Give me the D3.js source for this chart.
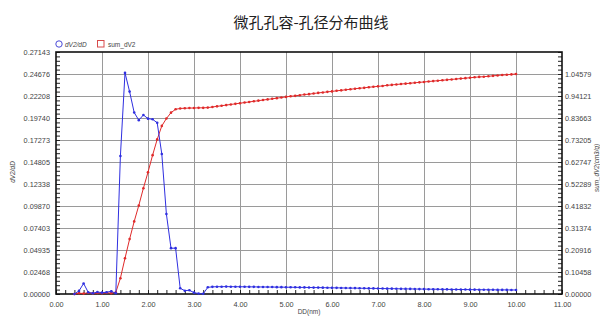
<!DOCTYPE html>
<html>
<head>
<meta charset="utf-8">
<script src="https://cdn.jsdelivr.net/npm/d3@7"></script>
<style>
  body { margin: 0; background: #fff; }
  svg { display: block; }
  text { font-family: "Liberation Sans", Arial, sans-serif; }
</style>
</head>
<body>
<svg id="chart" width="600" height="320"></svg>
<script>
// ---------------- data ----------------
const title = "微孔孔容-孔径分布曲线";
const xLabel = "DD(nm)";
const yLeftLabel = "dV2/dD";
const yRightLabel = "sum_dV2(cm3/g)";
const seriesNames = ["dV2/dD", "sum_dV2"];

const poreSize = [
  0.4, 0.5, 0.6, 0.7, 0.8, 0.9, 1.0, 1.1, 1.2, 1.3,
  1.4, 1.5, 1.6, 1.7, 1.8, 1.9, 2.0, 2.1, 2.2, 2.3,
  2.4, 2.5, 2.6, 2.7, 2.8, 2.9, 3.0, 3.1, 3.2, 3.3,
  3.4, 3.5, 3.6, 3.7, 3.8, 3.9, 4.0, 4.1, 4.2, 4.3,
  4.4, 4.5, 4.6, 4.7, 4.8, 4.9, 5.0, 5.1, 5.2, 5.3,
  5.4, 5.5, 5.6, 5.7, 5.8, 5.9, 6.0, 6.1, 6.2, 6.3,
  6.4, 6.5, 6.6, 6.7, 6.8, 6.9, 7.0, 7.1, 7.2, 7.3,
  7.4, 7.5, 7.6, 7.7, 7.8, 7.9, 8.0, 8.1, 8.2, 8.3,
  8.4, 8.5, 8.6, 8.7, 8.8, 8.9, 9.0, 9.1, 9.2, 9.3,
  9.4, 9.5, 9.6, 9.7, 9.8, 9.9, 10.0
];

const dV2dD = [
  0.0000, 0.0035, 0.0118, 0.0020, 0.0008, 0.0022, 0.0015, 0.0020, 0.0030, 0.0008,
  0.1547, 0.2480, 0.2270, 0.2035, 0.1950, 0.2008, 0.1967, 0.1960, 0.1920, 0.1570,
  0.0897, 0.0514, 0.0514, 0.0064, 0.0037, 0.0042, 0.0015, 0.0005, 0.0002, 0.0075,
  0.0080, 0.0082, 0.0082, 0.0083, 0.0082, 0.0082, 0.0081, 0.0081, 0.0080, 0.0080,
  0.0079, 0.0079, 0.0078, 0.0078, 0.0077, 0.0077, 0.0076, 0.0076, 0.0075, 0.0074,
  0.0074, 0.0073, 0.0072, 0.0072, 0.0071, 0.0070, 0.0069, 0.0069, 0.0068, 0.0067,
  0.0066, 0.0066, 0.0065, 0.0064, 0.0063, 0.0063, 0.0062, 0.0061, 0.0060, 0.0060,
  0.0059, 0.0058, 0.0057, 0.0057, 0.0056, 0.0055, 0.0055, 0.0054, 0.0054, 0.0053,
  0.0052, 0.0052, 0.0051, 0.0051, 0.0050, 0.0050, 0.0049, 0.0049, 0.0048, 0.0048,
  0.0047, 0.0047, 0.0046, 0.0046, 0.0046, 0.0045, 0.0045
];

const sumDV2 = [
  0.000, 0.004, 0.002, 0.006, 0.003, 0.005, 0.004, 0.006, 0.004, 0.008,
  0.075, 0.170, 0.261, 0.345, 0.421, 0.503, 0.579, 0.660, 0.735, 0.799,
  0.834, 0.862, 0.878, 0.882, 0.883, 0.884, 0.884, 0.885, 0.885, 0.886,
  0.889, 0.892, 0.895, 0.898, 0.901, 0.904, 0.907, 0.910, 0.913, 0.916,
  0.919, 0.922, 0.925, 0.928, 0.931, 0.934, 0.937, 0.940, 0.942, 0.945,
  0.948, 0.950, 0.953, 0.956, 0.958, 0.961, 0.963, 0.966, 0.968, 0.971,
  0.973, 0.976, 0.978, 0.980, 0.983, 0.985, 0.987, 0.989, 0.992, 0.994,
  0.996, 0.998, 1.000, 1.002, 1.004, 1.006, 1.008, 1.010, 1.012, 1.014,
  1.016, 1.018, 1.020, 1.022, 1.024, 1.026, 1.028, 1.030, 1.032, 1.033,
  1.035, 1.037, 1.039, 1.041, 1.042, 1.044, 1.046
];

const xTicks = [0, 1, 2, 3, 4, 5, 6, 7, 8, 9, 10, 11];
const xTickLabels = ["0.00","1.00","2.00","3.00","4.00","5.00","6.00","7.00","8.00","9.00","10.00","11.00"];
const yLeftTicks = [0, 0.02468, 0.04935, 0.07403, 0.09870, 0.12338, 0.14805, 0.17273, 0.19740, 0.22208, 0.24676, 0.27143];
const yLeftTickLabels = ["0.00000","0.02468","0.04935","0.07403","0.09870","0.12338","0.14805","0.17273","0.19740","0.22208","0.24676","0.27143"];
const yRightTicks = [0, 0.10458, 0.20916, 0.31374, 0.41832, 0.52289, 0.62747, 0.73205, 0.83663, 0.94121, 1.04579];
const yRightTickLabels = ["0.00000","0.10458","0.20916","0.31374","0.41832","0.52289","0.62747","0.73205","0.83663","0.94121","1.04579"];
const yRightMax = 1.15037;

// ---------------- layout ----------------
const svg = d3.select("#chart");
const L = 56, R = 562, T = 52, B = 294;
const blue = "#2f2fe0", red = "#e02a2a";

const x = d3.scaleLinear().domain([0, 11]).range([L, R]);
const yL = d3.scaleLinear().domain([0, 0.27143]).range([B, T]);
const yR = d3.scaleLinear().domain([0, yRightMax]).range([B, T]);

// title
svg.append("text").attr("x", 311).attr("y", 28).attr("text-anchor", "middle")
  .style("font-family", "'Noto Sans CJK SC', sans-serif").style("font-size", "15px").attr("fill", "#222")
  .text(title);

// grid
const grid = svg.append("g").attr("stroke", "#9a9a9a").attr("stroke-width", 1);
xTicks.slice(1, -1).forEach(t => {
  grid.append("line").attr("x1", Math.round(x(t)) + 0.5).attr("x2", Math.round(x(t)) + 0.5).attr("y1", T).attr("y2", B);
});
yLeftTicks.slice(1, -1).forEach(t => {
  grid.append("line").attr("x1", L).attr("x2", R).attr("y1", Math.round(yL(t)) + 0.5).attr("y2", Math.round(yL(t)) + 0.5);
});

// axes
const fontStyle = s => s.style("font-size", "7.3px").attr("fill", "#444");

const xAxis = d3.axisBottom(x).tickValues(xTicks).tickFormat((d, i) => xTickLabels[i]).tickSize(0).tickPadding(8);
const gx = svg.append("g").attr("transform", `translate(0,${B})`).call(xAxis);
gx.select(".domain").remove();
gx.selectAll("text").call(fontStyle);

const xMinor = d3.axisBottom(x).tickValues(d3.range(0, 11.001, 0.2)).tickFormat("").tickSizeInner(-4).tickSizeOuter(0);
const gxm = svg.append("g").attr("transform", `translate(0,${B})`).call(xMinor);
gxm.select(".domain").remove();
gxm.selectAll("line").attr("stroke", "#222");

const yAxisL = d3.axisLeft(yL).tickValues(yLeftTicks).tickFormat((d, i) => yLeftTickLabels[i]).tickSize(0).tickPadding(6);
const gyl = svg.append("g").attr("transform", `translate(${L},0)`).call(yAxisL);
gyl.select(".domain").remove();
gyl.selectAll("text").call(fontStyle);

const yMinorL = d3.axisLeft(yL).tickValues(d3.range(0, 0.27144, 0.27143 / 55)).tickFormat("").tickSizeInner(-4).tickSizeOuter(0);
const gylm = svg.append("g").attr("transform", `translate(${L},0)`).call(yMinorL);
gylm.select(".domain").remove();
gylm.selectAll("line").attr("stroke", "#222");

const yAxisR = d3.axisRight(yR).tickValues(yRightTicks).tickFormat((d, i) => yRightTickLabels[i]).tickSize(0).tickPadding(3);
const gyr = svg.append("g").attr("transform", `translate(${R},0)`).call(yAxisR);
gyr.select(".domain").remove();
gyr.selectAll("text").call(fontStyle);

const yMinorR = d3.axisRight(yR).tickValues(d3.range(0, yRightMax + 0.0001, yRightMax / 55)).tickFormat("").tickSizeInner(-4).tickSizeOuter(0);
const gyrm = svg.append("g").attr("transform", `translate(${R},0)`).call(yMinorR);
gyrm.select(".domain").remove();
gyrm.selectAll("line").attr("stroke", "#222");

// frame
svg.append("rect").attr("x", L).attr("y", T).attr("width", R - L).attr("height", B - T)
  .attr("fill", "none").attr("stroke", "#111").attr("stroke-width", 1.6);

// axis titles
svg.append("text").attr("transform", `translate(15,172) rotate(-90)`).attr("text-anchor", "middle")
  .style("font-size", "6.5px").style("font-style", "italic").attr("fill", "#444").text(yLeftLabel);
svg.append("text").attr("transform", `translate(598.5,168) rotate(-90)`).attr("text-anchor", "middle")
  .style("font-size", "6.3px").style("font-style", "italic").attr("fill", "#444").text(yRightLabel);
svg.append("text").attr("x", 309).attr("y", 314).attr("text-anchor", "middle")
  .style("font-size", "6.5px").attr("fill", "#444").text(xLabel);

// series
const dataBlue = poreSize.map((d, i) => [d, dV2dD[i]]);
const dataRed = poreSize.map((d, i) => [d, sumDV2[i]]);

const lineL = d3.line().x(d => x(d[0])).y(d => yL(d[1]));
const lineR = d3.line().x(d => x(d[0])).y(d => yR(d[1]));

svg.append("path").datum(dataRed).attr("d", lineR).attr("fill", "none").attr("stroke", red).attr("stroke-width", 1);
svg.append("g").selectAll("circle").data(dataRed).join("circle")
  .attr("cx", d => x(d[0])).attr("cy", d => yR(d[1])).attr("r", 1.3).attr("fill", red);

svg.append("path").datum(dataBlue).attr("d", lineL).attr("fill", "none").attr("stroke", blue).attr("stroke-width", 1);
svg.append("g").selectAll("circle").data(dataBlue).join("circle")
  .attr("cx", d => x(d[0])).attr("cy", d => yL(d[1])).attr("r", 1.3).attr("fill", blue);

// legend
const lg = svg.append("g");
lg.append("circle").attr("cx", 59).attr("cy", 44).attr("r", 3.2).attr("fill", "none").attr("stroke", "#4a4ad8").attr("stroke-width", 1);
lg.append("text").attr("x", 65).attr("y", 46.5).style("font-size", "6.5px").style("font-style", "italic").attr("fill", "#444").text(seriesNames[0]);
lg.append("rect").attr("x", 97.5).attr("y", 40.5).attr("width", 6.5).attr("height", 6.5).attr("fill", "none").attr("stroke", "#d84a4a").attr("stroke-width", 1);
lg.append("text").attr("x", 108).attr("y", 46.5).style("font-size", "6.5px").attr("fill", "#444").text(seriesNames[1]);
</script>
</body>
</html>
